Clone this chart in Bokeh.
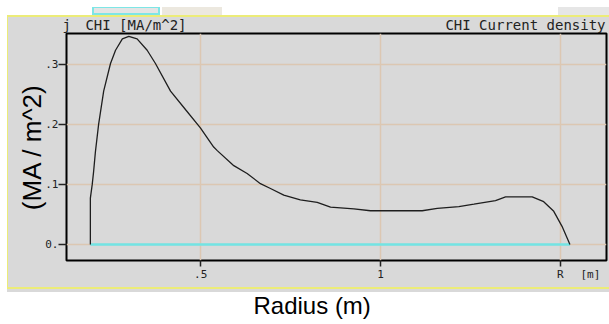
import math
from bokeh.plotting import figure
from bokeh.models import FixedTicker, Range1d, LinearAxis, Title
from bokeh.embed import file_html
from bokeh.resources import INLINE

# ---- data ----
radius = [0.193, 0.193, 0.198, 0.202, 0.207, 0.216, 0.230, 0.249, 0.263, 0.282,
          0.300, 0.323, 0.351, 0.374, 0.416, 0.458, 0.499, 0.536, 0.546, 0.592,
          0.629, 0.666, 0.694, 0.731, 0.777, 0.824, 0.861, 0.926, 0.972, 1.040,
          1.116, 1.158, 1.218, 1.260, 1.320, 1.348, 1.422, 1.454, 1.482, 1.505, 1.527]
density = [0.0, 0.077, 0.099, 0.121, 0.154, 0.200, 0.255, 0.301, 0.323, 0.342,
           0.346, 0.342, 0.323, 0.301, 0.255, 0.224, 0.194, 0.162, 0.156, 0.131,
           0.118, 0.101, 0.093, 0.082, 0.074, 0.070, 0.062, 0.059, 0.056, 0.056,
           0.056, 0.060, 0.063, 0.067, 0.073, 0.079, 0.079, 0.071, 0.055, 0.030, 0.0]
base_r = [0.193, 1.527]
base_j = [0.0, 0.0]

x_ticks = [0.5, 1.0, 1.5]
x_tick_labels = [".5", "1", "R"]
unit_pos = [1.584]
unit_texts = ["[m]"]
y_ticks = [0.0, 0.1, 0.2, 0.3]
y_tick_labels = ["0.", ".1", ".2", ".3"]

# inner header texts and where they sit along the radius axis
head_pos = [0.127, 0.3199, 1.4033]
head_texts = ["j", "CHI [MA/m^2]", "CHI Current density"]
y_title = "(MA / m^2)"
x_title = "Radius (m)"

# ---- style ----
W, H = 609, 324
GREY = "#d9d9d9"
YELLOW = "#ecec78"
GRIDC = "#dcc7b2"
INK = "#222222"
MONO = "DejaVu Sans Mono"
SANS = "Liberation Sans"


def box(color, x, y, w, h):
    return f"linear-gradient({color}, {color}) {x}px {y}px / {w}px {h}px no-repeat"


panel_bg = ", ".join([
    # cut-off tabs of the host window above the panel
    box("#e4e4e4", 94, 8, 64, 5),
    box("#7de6e6", 92, 7, 68, 8),
    box("#ece8df", 162, 7, 60, 8),
    box("#e6e6e6", 558, 7, 51, 8),
    # panel edges
    box(YELLOW, 7, 15, 1, 274),
    box(YELLOW, 7, 15, 602, 2),
    box(YELLOW, 7, 287, 602, 2),
    box(GREY, 7, 15, 602, 277),
    "white",
])

p = figure(width=W, height=H,
           x_range=Range1d(0.1266, 1.6287), y_range=Range1d(-0.0268, 0.3509),
           output_backend="svg", toolbar_location=None,
           min_border_left=66, min_border_right=3, min_border_top=33,
           min_border_bottom=61,
           background_fill_color=GREY, border_fill_color="white",
           border_fill_alpha=0.0,
           outline_line_color="black", outline_line_width=2)
p.styles = {"background": panel_bg}

for ax in (p.xaxis[0], p.yaxis[0]):
    ax.axis_line_color = None
    ax.major_tick_in = 0
    ax.minor_tick_line_color = None
    ax.major_tick_line_color = INK
    ax.major_tick_line_width = 1.5
    ax.major_label_text_font = MONO
    ax.major_label_text_font_size = "11px"
    ax.major_label_text_color = INK

xa = p.xaxis[0]
xa.ticker = FixedTicker(ticks=x_ticks)
xa.major_label_overrides = {t: l for t, l in zip(x_ticks, x_tick_labels)}
xa.major_tick_out = 6
xa.major_label_standoff = 1

# unit text on the same line as the x tick labels
xu = LinearAxis(ticker=FixedTicker(ticks=unit_pos),
                major_label_overrides={t: s for t, s in zip(unit_pos, unit_texts)},
                axis_line_color=None, major_tick_line_color=None,
                minor_tick_line_color=None, major_tick_in=0, major_tick_out=0,
                major_label_standoff=-16, major_label_text_font=MONO,
                major_label_text_font_size="11px", major_label_text_color=INK)
p.add_layout(xu, "below")

ya = p.yaxis[0]
ya.ticker = FixedTicker(ticks=y_ticks)
ya.major_label_overrides = {t: l for t, l in zip(y_ticks, y_tick_labels)}
ya.major_tick_out = 8
ya.major_label_standoff = 0
ya.axis_label = y_title
ya.axis_label_text_font = SANS
ya.axis_label_text_font_size = "26px"
ya.axis_label_text_font_style = "normal"
ya.axis_label_text_color = "black"
ya.axis_label_standoff = -5

# header line inside the panel, drawn as an axis above the frame
head = LinearAxis(ticker=FixedTicker(ticks=head_pos),
                  major_label_overrides={t: s for t, s in zip(head_pos, head_texts)},
                  axis_line_color=None, major_tick_line_color=None,
                  minor_tick_line_color=None, major_tick_in=0, major_tick_out=0,
                  major_label_standoff=1, major_label_text_font=MONO,
                  major_label_text_font_size="14px", major_label_text_color=INK)
p.add_layout(head, "above")

p.xgrid.ticker = FixedTicker(ticks=x_ticks)
p.ygrid.ticker = FixedTicker(ticks=y_ticks)
p.grid.grid_line_color = GRIDC
p.grid.grid_line_width = 1.5

p.line(base_r, base_j, line_color="#72e4e4", line_width=2.5)
p.line(radius, density, line_color="#1e1e1e", line_width=1.3)

p.add_layout(Title(text=x_title, align="left", offset=187, standoff=12,
                   text_font=SANS, text_font_size="24px",
                   text_font_style="normal", text_color="black"), "below")

open("out.html", "w").write(file_html(p, INLINE))
